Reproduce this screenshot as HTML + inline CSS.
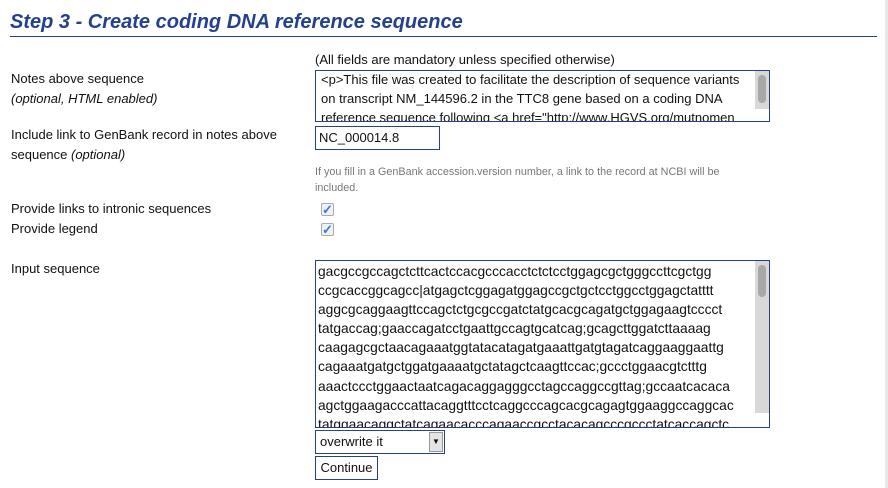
<!DOCTYPE html>
<html><head><meta charset="utf-8"><style>
body{margin:0;width:888px;height:488px;background:#fff;position:relative;overflow:hidden;font-family:"Liberation Sans",sans-serif;font-size:13px;color:#111}
.a{position:absolute;white-space:nowrap;line-height:20px}
h1{position:absolute;left:10px;top:8px;margin:0;font-size:20px;font-style:italic;font-weight:bold;color:#24408e;line-height:28px}
.rule{position:absolute;left:10px;top:36px;width:867px;height:1px;background:#24408e}
.box{position:absolute;border:1px solid #24408e;background:#fff;overflow:hidden}
.ta{padding:0 0 0 5px;line-height:19px}
.sb{position:absolute;right:0;top:0;width:14px;background:#d8d8d8}
.th{position:absolute;left:3px;top:4px;width:8px;height:30px;border-radius:4px;background:#a8a8a8}
.cb{position:absolute;left:321px;width:11px;height:11px;border:1px solid #aaa;border-radius:2px;background:#eef2f7;color:#3a78d0;font-size:13px;line-height:11px;text-align:center;font-weight:bold}
.strip{position:absolute;right:0;top:0;width:3px;height:488px;background:#e8e8e8}
</style></head><body>
<div class="strip"></div>
<h1>Step 3 - Create coding DNA reference sequence</h1>
<div class="rule"></div>
<div class="a" style="left:315px;top:50px">(All fields are mandatory unless specified otherwise)</div>
<div class="a" style="left:11px;top:69px">Notes above sequence</div>
<div class="a" style="left:11px;top:89px;font-style:italic">(optional, HTML enabled)</div>
<div class="box ta" style="left:315px;top:70px;width:448px;height:50px">
<div style="position:absolute;left:5px;top:-1px">&lt;p&gt;This file was created to facilitate the description of sequence variants<br>on transcript NM_144596.2 in the TTC8 gene based on a coding DNA<br>reference sequence following &lt;a href="http://www.HGVS.org/mutnomen</div>
<div class="sb" style="height:38px"><div class="th" style="height:28px"></div></div></div>
<div class="a" style="left:11px;top:125px">Include link to GenBank record in notes above</div>
<div class="a" style="left:11px;top:145px">sequence <i>(optional)</i></div>
<div class="box" style="left:315px;top:126px;line-height:22px;padding-left:3px;box-sizing:border-box;width:125px;height:24px">NC_000014.8</div>
<div class="a" style="left:315px;top:164px;font-size:10.8px;color:#777;line-height:16px">If you fill in a GenBank accession.version number, a link to the record at NCBI will be<br>included.</div>
<div class="a" style="left:11px;top:199px">Provide links to intronic sequences</div>
<div class="cb" style="top:203px">✓</div>
<div class="a" style="left:11px;top:219px">Provide legend</div>
<div class="cb" style="top:223px">✓</div>
<div class="a" style="left:11px;top:259px">Input sequence</div>
<div class="box" style="left:315px;top:260px;width:453px;height:166px">
<div style="position:absolute;left:2px;top:1px;line-height:19.1px;white-space:nowrap;font-size:13.8px">gacgccgccagctcttcactccacgcccacctctctcctggagcgctgggccttcgctgg<br>ccgcaccggcagcc|atgagctcggagatggagccgctgctcctggcctggagctatttt<br>aggcgcaggaagttccagctctgcgccgatctatgcacgcagatgctggagaagtcccct<br>tatgaccag;gaaccagatcctgaattgccagtgcatcag;gcagcttggatcttaaaag<br>caagagcgctaacagaaatggtatacatagatgaaattgatgtagatcaggaaggaattg<br>cagaaatgatgctggatgaaaatgctatagctcaagttccac;gccctggaacgtctttg<br>aaactccctggaactaatcagacaggagggcctagccaggccgttag;gccaatcacaca<br>agctggaagacccattacaggtttcctcaggcccagcacgcagagtggaaggccaggcac<br>tatggaacaggctatcagaacacccagaaccgcctacacagcccgccctatcaccagctc</div>
<div class="sb" style="height:152px"><div class="th" style="height:32px"></div></div></div>
<div class="box" style="left:315px;top:430px;width:128px;height:22px;line-height:22px">
<span style="padding-left:4px">overwrite it</span>
<div style="position:absolute;right:1px;top:1px;width:12px;height:18px;background:#e4e4e4;border:1px solid #999;font-size:8px;line-height:18px;text-align:center">▼</div></div>
<div class="box" style="left:315px;top:456px;width:61px;height:22px;line-height:22px;text-align:center">Continue</div>
</body></html>
